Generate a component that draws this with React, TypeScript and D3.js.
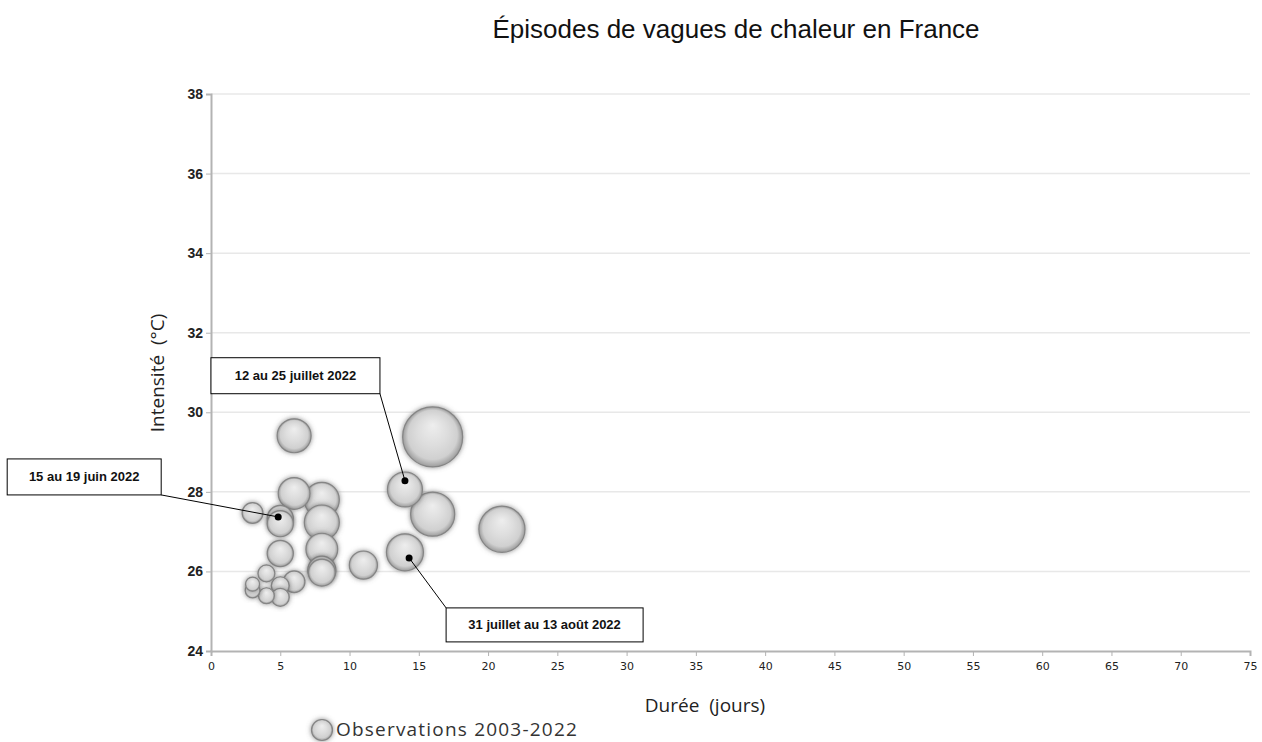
import React, { useRef, useEffect } from 'react';
import * as d3 from 'd3';

// Durée (jours), intensité (°C), sévérité (taille de bulle)
const durees = [6, 16, 6, 8, 8, 8, 8, 8, 14, 16, 21, 14, 11, 3, 5, 5, 5, 4, 6, 3, 3, 5, 4, 5];
const intensites = [29.41, 29.38, 27.96, 27.8, 27.23, 26.56, 26.03, 25.97, 28.06, 27.44, 27.06, 26.48, 26.16, 27.47, 27.33, 27.2, 26.45, 25.95, 25.74, 25.68, 25.52, 25.64, 25.39, 25.35];
const severites = [32, 100, 28, 34, 34, 28, 22, 20, 34, 54, 59, 38, 22, 12, 19, 19, 19, 8, 13, 5.5, 6, 9, 7, 9];

const yTicks = [24, 26, 28, 30, 32, 34, 36, 38];
const xTicks = d3.range(0, 80, 5);

interface Annot { label: string; x: number; y: number; dx: number; dy: number; w: number; h: number; corner: 'br' | 'tl' }
const annotations: Annot[] = [
  { label: '15 au 19 juin 2022', x: 4.85, y: 27.37, dx: -271, dy: -58, w: 154, h: 36, corner: 'br' },
  { label: '12 au 25 juillet 2022', x: 14.0, y: 28.28, dx: -194, dy: -123, w: 169, h: 36, corner: 'br' },
  { label: '31 juillet au 13 août 2022', x: 14.3, y: 26.34, dx: 37, dy: 50, w: 197, h: 34, corner: 'tl' },
];

const W = 1262;
const H = 742;

const App: React.FC = () => {
  const svgRef = useRef<SVGSVGElement>(null);

  useEffect(() => {
    if (!svgRef.current) return;
    const svg = d3.select(svgRef.current);
    svg.selectAll('*').remove();

    const x = d3.scaleLinear().domain([0, 75]).range([211, 1250]);
    const y = d3.scaleLinear().domain([24, 38]).range([651, 94]);
    const r = d3.scaleSqrt().domain([0, 100]).range([0, 30]);

    const defs = svg.append('defs');
    const grad = defs.append('radialGradient').attr('id', 'bub')
      .attr('cx', '50%').attr('cy', '50%').attr('r', '50%').attr('fx', '50%').attr('fy', '30%');
    grad.append('stop').attr('offset', '0%').attr('stop-color', '#eeeeee');
    grad.append('stop').attr('offset', '50%').attr('stop-color', '#dddddd');
    grad.append('stop').attr('offset', '82%').attr('stop-color', '#d0d0d0');
    grad.append('stop').attr('offset', '100%').attr('stop-color', '#9c9c9c');
    const f = defs.append('filter').attr('id', 'shadow').attr('x', '-30%').attr('y', '-30%').attr('width', '160%').attr('height', '160%');
    f.append('feGaussianBlur').attr('in', 'SourceAlpha').attr('stdDeviation', 2.4).attr('result', 'b');
    f.append('feFlood').attr('flood-color', '#666').attr('flood-opacity', 0.75);
    f.append('feComposite').attr('in2', 'b').attr('operator', 'in').attr('result', 's');
    const m = f.append('feMerge');
    m.append('feMergeNode').attr('in', 's');
    m.append('feMergeNode').attr('in', 'SourceGraphic');

    // Title
    svg.append('text').attr('x', 736).attr('y', 38).attr('text-anchor', 'middle')
      .attr('font-family', 'Liberation Sans, Arial, sans-serif').attr('font-size', 26).attr('fill', '#111')
      .text('Épisodes de vagues de chaleur en France');

    // Grid
    svg.append('g').selectAll('line').data(yTicks.slice(1)).enter().append('line')
      .attr('x1', x(0)).attr('x2', x(75)).attr('y1', d => y(d)).attr('y2', d => y(d))
      .attr('stroke', '#e8e8e8').attr('stroke-width', 1.5);

    // Y axis
    const ya = svg.append('g').attr('transform', `translate(${x(0)},0)`)
      .call(d3.axisLeft(y).tickValues(yTicks).tickSize(5).tickPadding(3));
    ya.select('.domain').attr('stroke', '#b3b3b3').attr('stroke-width', 2);
    ya.selectAll('.tick line').attr('stroke', '#b3b3b3');
    ya.selectAll('.tick text').attr('font-family', 'Liberation Sans, Arial, sans-serif')
      .attr('font-size', 14).attr('font-weight', 'bold').attr('fill', '#222');

    // X axis
    const xa = svg.append('g').attr('transform', `translate(0,${y(24)})`)
      .call(d3.axisBottom(x).tickValues(xTicks).tickSize(5).tickPadding(6));
    xa.select('.domain').attr('stroke', '#b3b3b3').attr('stroke-width', 2);
    xa.selectAll('.tick line').attr('stroke', '#b3b3b3');
    xa.selectAll('.tick text').attr('font-family', 'DejaVu Sans, sans-serif')
      .attr('font-size', 11).attr('fill', '#222');

    // Axis titles
    svg.append('text').attr('transform', `translate(164,373) rotate(-90)`).attr('text-anchor', 'middle')
      .attr('font-family', 'Open Sans, sans-serif').attr('font-size', 19).attr('fill', '#222')
      .style('white-space', 'pre')
      .text('Intensité  (°C)');
    svg.append('text').attr('x', 705).attr('y', 712).attr('text-anchor', 'middle')
      .attr('font-family', 'Open Sans, sans-serif').attr('font-size', 19).attr('fill', '#222')
      .style('white-space', 'pre')
      .text('Durée  (jours)');

    // Bubbles
    const idx = d3.range(durees.length).sort((a, b) => severites[b] - severites[a]);
    svg.append('g').selectAll('circle').data(idx).enter().append('circle')
      .attr('cx', i => x(durees[i])).attr('cy', i => y(intensites[i])).attr('r', i => r(severites[i]))
      .attr('fill', 'url(#bub)').attr('stroke', '#858585').attr('stroke-width', 1.2)
      .attr('filter', 'url(#shadow)');

    // Annotations
    const ag = svg.append('g');
    annotations.forEach(a => {
      const px = x(a.x);
      const py = y(a.y);
      const bx = px + a.dx;
      const by = py + a.dy;
      const lx = a.corner === 'br' ? bx + a.w : bx;
      const ly = a.corner === 'br' ? by + a.h : by;
      ag.append('line').attr('x1', px).attr('y1', py).attr('x2', lx).attr('y2', ly)
        .attr('stroke', '#000').attr('stroke-width', 1);
      ag.append('rect').attr('x', bx).attr('y', by).attr('width', a.w).attr('height', a.h)
        .attr('fill', '#fff').attr('stroke', '#000').attr('stroke-width', 1);
      ag.append('text').attr('x', bx + a.w / 2).attr('y', by + a.h / 2 + 4).attr('text-anchor', 'middle')
        .attr('font-family', 'Liberation Sans, Arial, sans-serif').attr('font-size', 13).attr('font-weight', 'bold')
        .attr('fill', '#111').text(a.label);
      ag.append('circle').attr('cx', px).attr('cy', py).attr('r', 3.5).attr('fill', '#000');
    });

    // Legend
    svg.append('circle').attr('cx', 322).attr('cy', 730).attr('r', 10.5)
      .attr('fill', 'url(#bub)').attr('stroke', '#858585').attr('stroke-width', 1.2).attr('filter', 'url(#shadow)');
    svg.append('text').attr('x', 336).attr('y', 736)
      .attr('font-family', 'Open Sans, sans-serif').attr('font-size', 19).attr('letter-spacing', 1.2).attr('fill', '#333')
      .text('Observations 2003-2022');
  }, []);

  return (
    <div style={{ position: 'absolute', left: 0, top: 0 }}>
      <svg ref={svgRef} width={W} height={H} style={{ display: 'block', background: '#fff' }} />
    </div>
  );
};

export default App;
